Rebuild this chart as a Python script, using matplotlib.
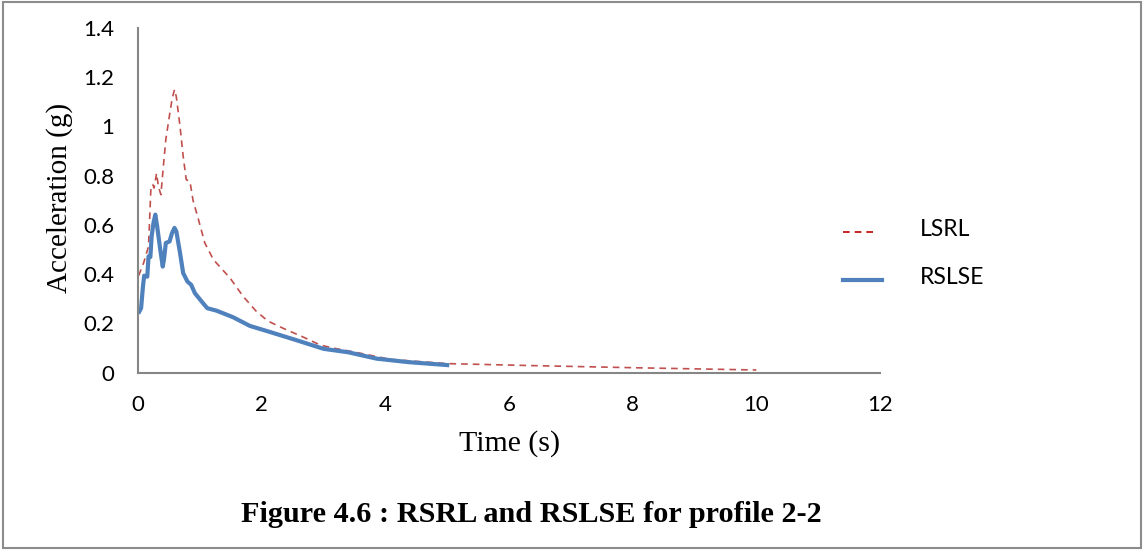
import matplotlib
matplotlib.use('Agg')
import matplotlib.pyplot as plt
from matplotlib.patches import Rectangle
from matplotlib.lines import Line2D

# LSRL (red dashed)
lsrl_t = [0.01, 0.09, 0.17, 0.21, 0.24, 0.26, 0.30, 0.33, 0.37, 0.41, 0.45, 0.50,
          0.55, 0.59, 0.62, 0.68, 0.73, 0.78, 0.84, 0.89, 0.98, 1.08, 1.22, 1.49,
          1.70, 1.91, 2.10, 2.35, 2.67, 2.95, 3.20, 3.52, 4.08, 4.99, 6.35, 8.06, 10.0]
lsrl_acc = [0.394, 0.445, 0.513, 0.757, 0.764, 0.75, 0.81, 0.757, 0.723, 0.838, 0.947, 1.03,
            1.11, 1.15, 1.12, 1.0, 0.88, 0.784, 0.777, 0.70, 0.62, 0.527, 0.459, 0.384,
            0.31, 0.25, 0.21, 0.18, 0.145, 0.112, 0.098, 0.083, 0.054, 0.037, 0.029, 0.020, 0.011]

# RSLSE (blue solid)
rslse_t = [0.02, 0.05, 0.08, 0.10, 0.15, 0.17, 0.20, 0.22, 0.25, 0.28, 0.31, 0.36,
           0.40, 0.42, 0.45, 0.51, 0.55, 0.59, 0.62, 0.68, 0.73, 0.80, 0.86, 0.92,
           1.03, 1.12, 1.27, 1.54, 1.81, 2.10, 2.55, 3.0, 3.40, 3.86, 4.37, 5.0]
rslse_acc = [0.248, 0.262, 0.35, 0.394, 0.39, 0.472, 0.47, 0.553, 0.608, 0.642, 0.594, 0.50,
             0.431, 0.46, 0.527, 0.533, 0.567, 0.588, 0.574, 0.486, 0.405, 0.37, 0.357, 0.323,
             0.289, 0.262, 0.252, 0.225, 0.19, 0.168, 0.133, 0.097, 0.083, 0.057, 0.043, 0.031]

xticks = [0, 2, 4, 6, 8, 10, 12]
yticks = [0, 0.2, 0.4, 0.6, 0.8, 1, 1.2, 1.4]
ytick_labels = ['0', '0.2', '0.4', '0.6', '0.8', '1', '1.2', '1.4']

W, H = 1143, 551
fig = plt.figure(figsize=(W / 100, H / 100), dpi=100)

# frame around the whole picture
fig.patches.append(Rectangle((3 / W, 1 - 548 / H), (1141 - 3) / W, (548 - 2) / H,
                             transform=fig.transFigure, fill=False,
                             edgecolor='#8c8c8c', linewidth=1.5))

ax = fig.add_axes([138 / W, 1 - 372.7 / H, (880 - 138) / W, (372.7 - 28) / H])
ax.plot(lsrl_t, lsrl_acc, color='#C0504D', linestyle=(0, (4, 3)), linewidth=1.2)
ax.plot(rslse_t, rslse_acc, color='#4F81BD', linewidth=3)

ax.set_xlim(0, 12)
ax.set_ylim(0, 1.4)
ax.set_xticks(xticks)
ax.set_xticklabels([str(v) for v in xticks])
ax.set_yticks(yticks)
ax.set_yticklabels(ytick_labels)
for lab in ax.get_xticklabels() + ax.get_yticklabels():
    lab.set_fontfamily('Lato')
    lab.set_fontsize(16)
ax.tick_params(axis='x', length=0, pad=16)
ax.tick_params(axis='y', length=0, pad=17)

for side in ['top', 'right']:
    ax.spines[side].set_visible(False)
for side in ['left', 'bottom']:
    ax.spines[side].set_color('#868686')
    ax.spines[side].set_linewidth(1.5)

fig.text(60 / W, 1 - 198 / H, 'Acceleration (g)', family='Liberation Serif',
         fontsize=21, rotation=90, ha='center', va='center')
fig.text(510 / W, 1 - 444 / H, 'Time (s)', family='Liberation Serif',
         fontsize=21.5, ha='center', va='center')
fig.text(531 / W, 1 - 515 / H, 'Figure 4.6 : RSRL and RSLSE for profile 2-2',
         family='Liberation Serif', fontweight='bold', fontsize=21.8,
         ha='center', va='center')

# legend drawn by hand, like the Excel one
fig.lines.append(Line2D([843 / W, 878 / W], [1 - 232 / H, 1 - 232 / H],
                        transform=fig.transFigure, color='#C00000',
                        linestyle=(0, (4, 3)), linewidth=1.2))
fig.lines.append(Line2D([843 / W, 882 / W], [1 - 280 / H, 1 - 280 / H],
                        transform=fig.transFigure, color='#4F81BD', linewidth=3))
fig.text(920 / W, 1 - 229 / H, 'LSRL', family='Lato', fontsize=16.5, va='center')
fig.text(920 / W, 1 - 278 / H, 'RSLSE', family='Lato', fontsize=16.5, va='center')

fig.savefig('out.png', dpi=100)
